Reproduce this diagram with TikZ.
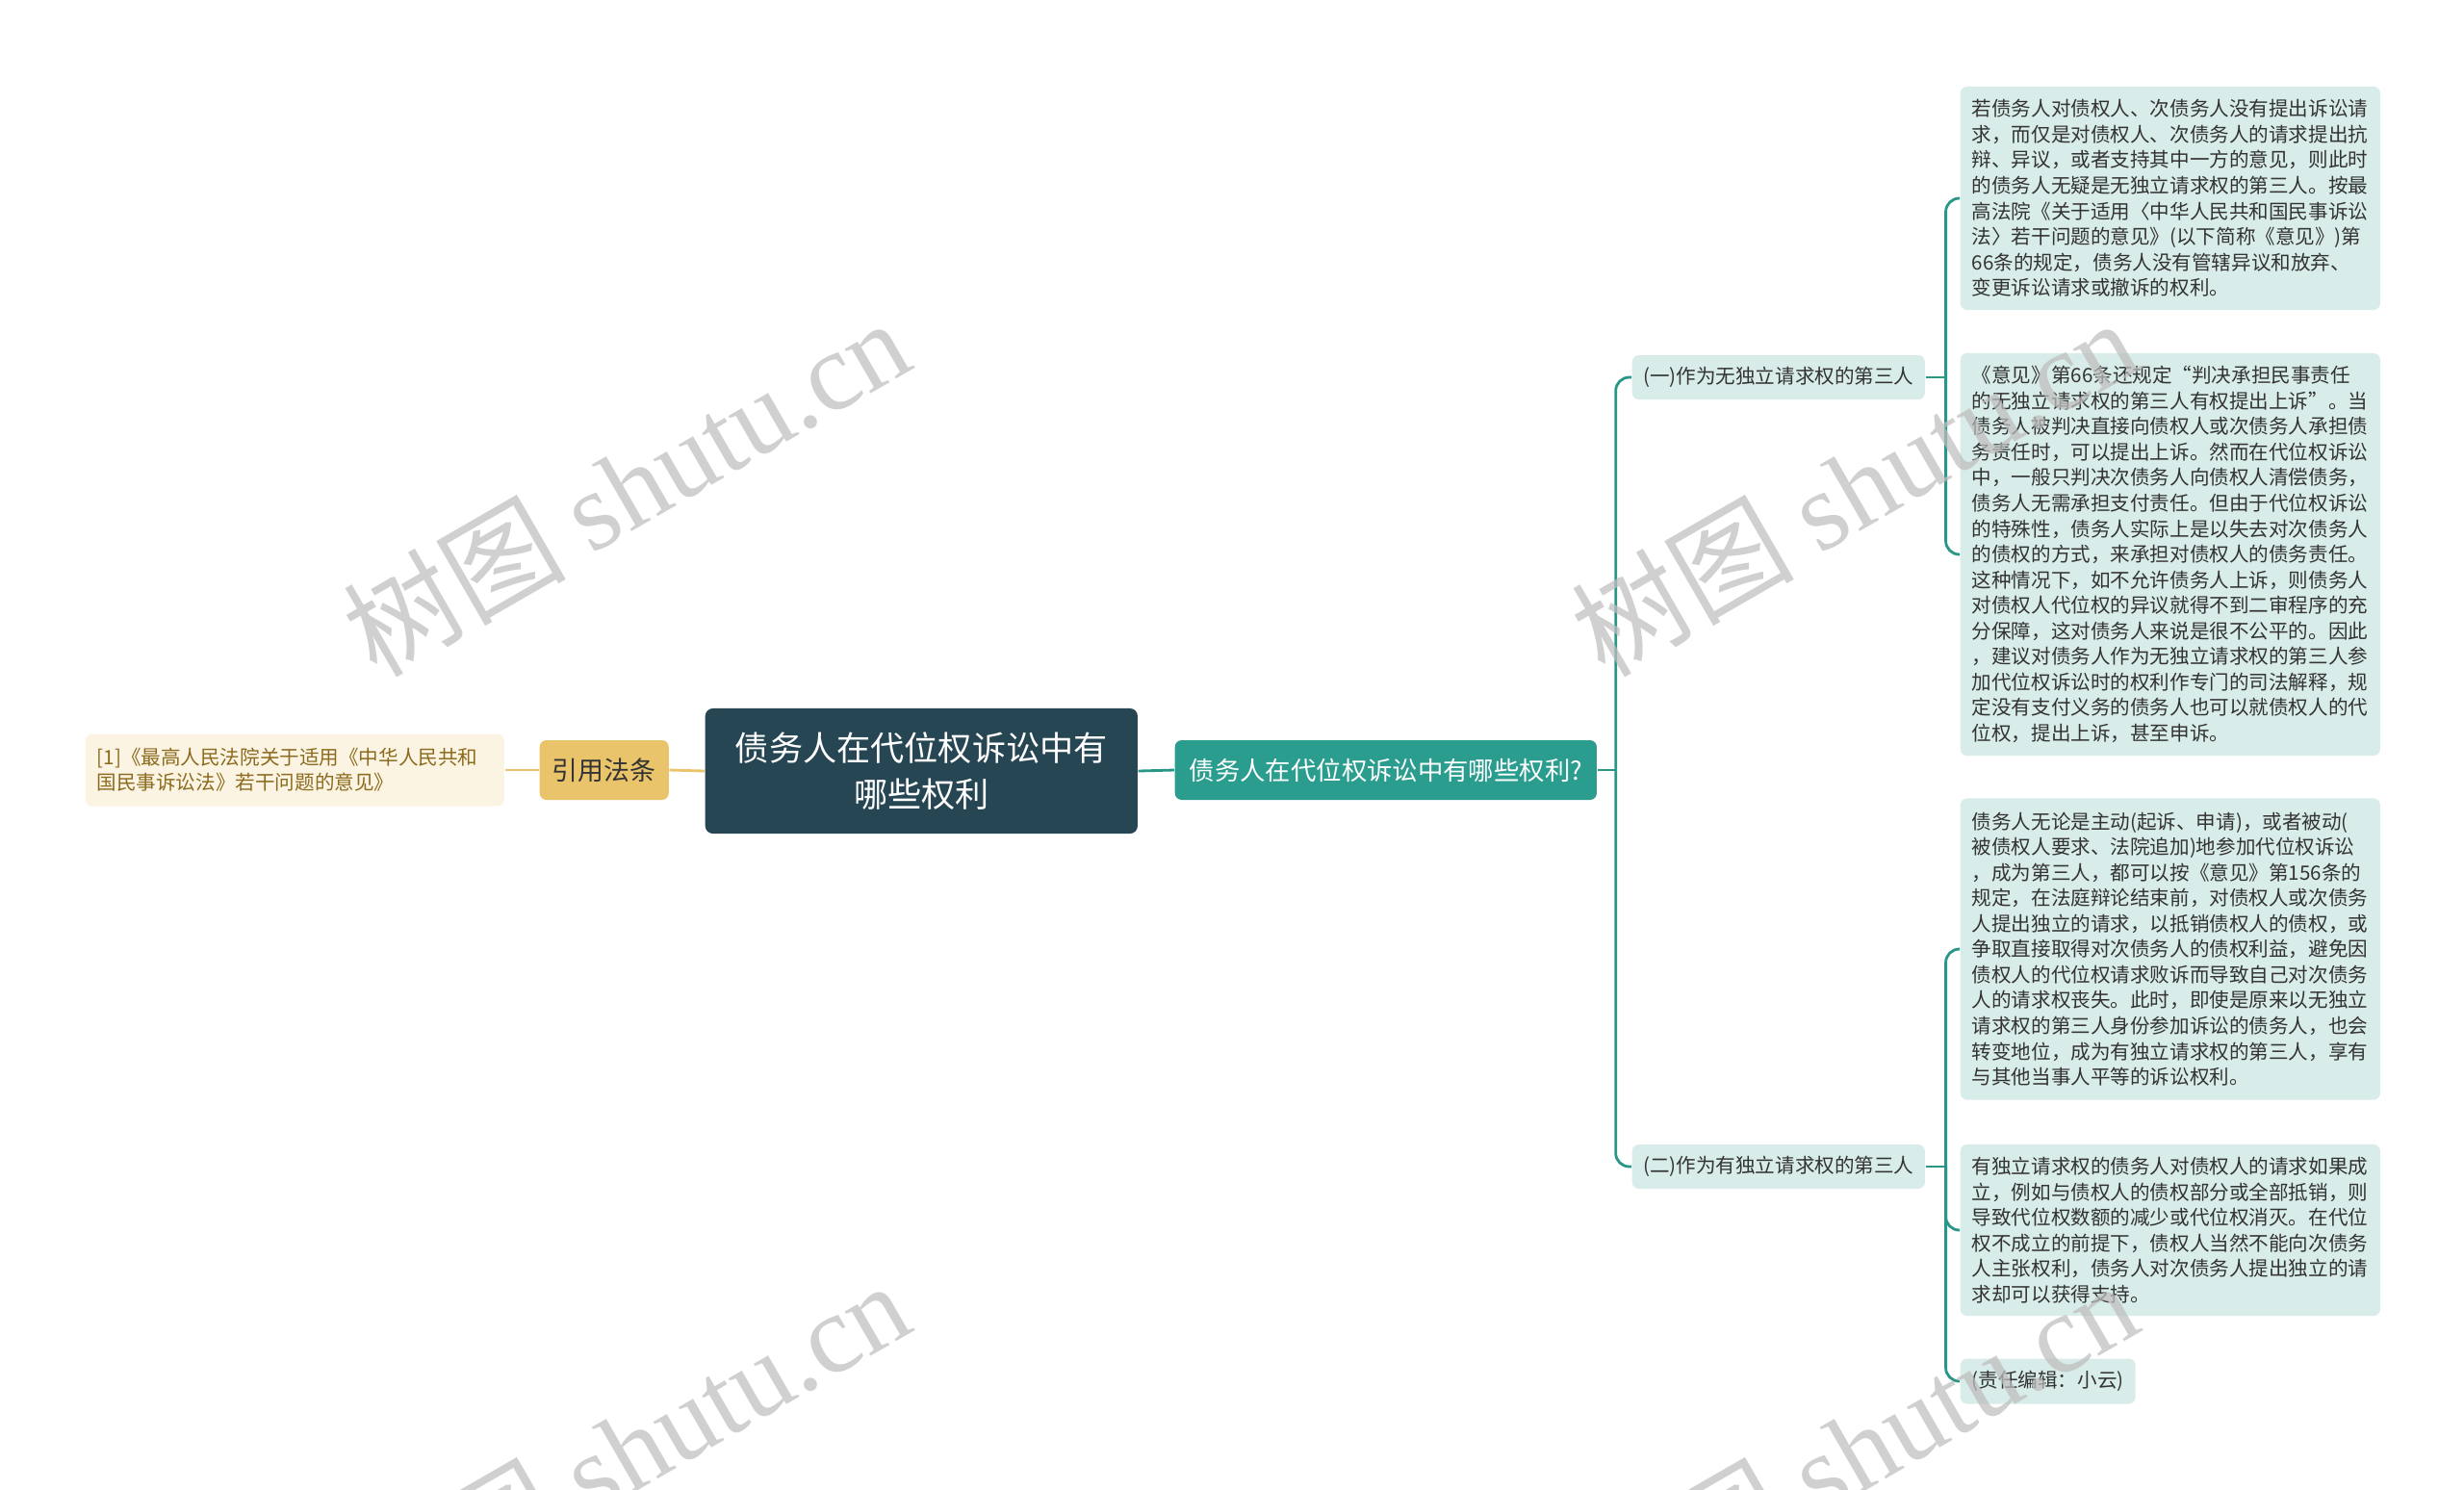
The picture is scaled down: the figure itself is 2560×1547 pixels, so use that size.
\documentclass[tikz,border=0pt]{standalone}
\usepackage{fontspec}
\setmainfont{Noto Sans CJK SC}
\newfontfamily\wmfont{Liberation Serif}
\definecolor{RootDark}  {RGB}{38,70,83}
\definecolor{TopicTeal} {RGB}{42,157,143}
\definecolor{LineTeal}  {RGB}{42,150,136}
\definecolor{LawGold}   {RGB}{233,196,106}
\definecolor{LeafTeal}  {RGB}{216,236,233}
\definecolor{RefCream}  {RGB}{251,244,227}
\definecolor{RefBrown}  {RGB}{140,106,30}
\definecolor{TextDark}  {RGB}{51,51,51}
\definecolor{WaterGray} {RGB}{190,190,190}
\usetikzlibrary{positioning}

\begin{document}
\begin{tikzpicture}[x=0.01cm,y=-0.01cm,
  rootbox/.style={fill=RootDark,text=white,rounded corners=0.08cm,
    minimum width=4.49cm,minimum height=1.30cm,align=center,
    font=\fontsize{10}{13.6}\selectfont},
  topicbox/.style={fill=TopicTeal,text=white,rounded corners=0.07cm,
    minimum width=4.38cm,minimum height=0.62cm,
    font=\fontsize{7.5}{9}\selectfont},
  lawbox/.style={fill=LawGold,text=TextDark,rounded corners=0.07cm,
    minimum width=1.34cm,minimum height=0.62cm,
    font=\fontsize{7.65}{9}\selectfont},
  refbox/.style={fill=RefCream,text=RefBrown,rounded corners=0.07cm,
    text width=4.11cm,inner xsep=0.12cm,inner ysep=0pt,
    minimum height=0.75cm,align=left,
    font=\fontsize{5.85}{7.4}\selectfont},
  subbox/.style={fill=LeafTeal,text=TextDark,rounded corners=0.07cm,
    minimum width=3.04cm,minimum height=0.46cm,inner xsep=0pt,
    font=\fontsize{5.85}{7}\selectfont},
  leafbox/.style={fill=LeafTeal,text=TextDark,rounded corners=0.07cm,
    inner xsep=0.12cm,inner ysep=0pt,align=left,
    font=\fontsize{5.85}{7.55}\selectfont},
  leafwide/.style={leafbox,text width=4.12cm},
  tealline/.style={draw=LineTeal,line width=0.8pt,rounded corners=0.14cm},
  goldline/.style={draw=LawGold,line width=0.8pt},
  wmark/.style={text=WaterGray,opacity=0.72,rotate=30,
    font=\fontsize{33}{33}\selectfont}]
  \useasboundingbox (0,0) rectangle (2560,1547);

  %% Centre row
  \node[rootbox,anchor=west] (root) at (732,801)
       {债务人在代位权诉讼中有\\哪些权利};
  \node[lawbox,anchor=west] (law) at (560,800) {引用法条};
  \node[refbox,anchor=west] (ref) at (88,800)
       {[1]《最高人民法院关于适用《中华人民共和\\国民事诉讼法》若干问题的意见》};
  \node[topicbox,anchor=west] (quest) at (1220,800)
       {债务人在代位权诉讼中有哪些权利?};

  %% Two kinds of third party
  \node[subbox,anchor=west] (sub1) at (1695,392) {(一)作为无独立请求权的第三人};
  \node[subbox,anchor=west] (sub2) at (1695,1212) {(二)作为有独立请求权的第三人};

  %% Leaves of (一)
  \node[leafwide,anchor=west,minimum height=2.32cm] (leaf1) at (2036,206)
       {若债务人对债权人、次债务人没有提出诉讼请\\
        求，而仅是对债权人、次债务人的请求提出抗\\
        辩、异议，或者支持其中一方的意见，则此时\\
        的债务人无疑是无独立请求权的第三人。按最\\
        高法院《关于适用〈中华人民共和国民事诉讼\\
        法〉若干问题的意见》(以下简称《意见》)第\\
        66条的规定，债务人没有管辖异议和放弃、\\
        变更诉讼请求或撤诉的权利。};
  \node[leafwide,anchor=west,minimum height=4.18cm] (leaf2) at (2036,576)
       {《意见》第66条还规定“判决承担民事责任\\
        的无独立请求权的第三人有权提出上诉”。当\\
        债务人被判决直接向债权人或次债务人承担债\\
        务责任时，可以提出上诉。然而在代位权诉讼\\
        中，一般只判决次债务人向债权人清偿债务，\\
        债务人无需承担支付责任。但由于代位权诉讼\\
        的特殊性，债务人实际上是以失去对次债务人\\
        的债权的方式，来承担对债权人的债务责任。\\
        这种情况下，如不允许债务人上诉，则债务人\\
        对债权人代位权的异议就得不到二审程序的充\\
        分保障，这对债务人来说是很不公平的。因此\\
        ，建议对债务人作为无独立请求权的第三人参\\
        加代位权诉讼时的权利作专门的司法解释，规\\
        定没有支付义务的债务人也可以就债权人的代\\
        位权，提出上诉，甚至申诉。};

  %% Leaves of (二)
  \node[leafwide,anchor=west,minimum height=3.13cm] (leaf3) at (2036,986)
       {债务人无论是主动(起诉、申请)，或者被动(\\
        被债权人要求、法院追加)地参加代位权诉讼\\
        ，成为第三人，都可以按《意见》第156条的\\
        规定，在法庭辩论结束前，对债权人或次债务\\
        人提出独立的请求，以抵销债权人的债权，或\\
        争取直接取得对次债务人的债权利益，避免因\\
        债权人的代位权请求败诉而导致自己对次债务\\
        人的请求权丧失。此时，即使是原来以无独立\\
        请求权的第三人身份参加诉讼的债务人，也会\\
        转变地位，成为有独立请求权的第三人，享有\\
        与其他当事人平等的诉讼权利。};
  \node[leafwide,anchor=west,minimum height=1.78cm] (leaf4) at (2036,1278)
       {有独立请求权的债务人对债权人的请求如果成\\
        立，例如与债权人的债权部分或全部抵销，则\\
        导致代位权数额的减少或代位权消灭。在代位\\
        权不成立的前提下，债权人当然不能向次债务\\
        人主张权利，债务人对次债务人提出独立的请\\
        求却可以获得支持。};
  \node[leafbox,anchor=west,minimum height=0.47cm] (leaf5) at (2036,1435)
       {(责任编辑：小云)};

  %% Connectors
  \draw[goldline] (ref.east) -- (law.west);
  \draw[goldline] (law.east) -- (root.west);
  \draw[tealline] (root.east) -- (quest.east -| quest.west);
  \path (quest.east) ++(19,0) coordinate (trunk);
  \draw[tealline] (quest.east) -- (trunk);
  \draw[tealline] (trunk) |- (sub1.west);
  \draw[tealline] (trunk) |- (sub2.west);
  \path (sub1.east) ++(21,0) coordinate (fork1);
  \draw[tealline] (sub1.east) -- (fork1);
  \draw[tealline] (fork1) |- (leaf1.west);
  \draw[tealline] (fork1) |- (leaf2.west);
  \path (sub2.east) ++(21,0) coordinate (fork2);
  \draw[tealline] (sub2.east) -- (fork2);
  \draw[tealline] (fork2) |- (leaf3.west);
  \draw[tealline] (fork2) |- (leaf4.west);
  \draw[tealline] (fork2) |- (leaf5.west);

  %% Watermarks
  \node[wmark] (wm1) at (650,505)  {树图 {\wmfont shutu.cn}};
  \node[wmark] (wm2) at (1926,505) {树图 {\wmfont shutu.cn}};
  \node[wmark] (wm3) at (650,1505) {树图 {\wmfont shutu.cn}};
  \node[wmark] (wm4) at (1926,1505){树图 {\wmfont shutu.cn}};
\end{tikzpicture}
\end{document}
